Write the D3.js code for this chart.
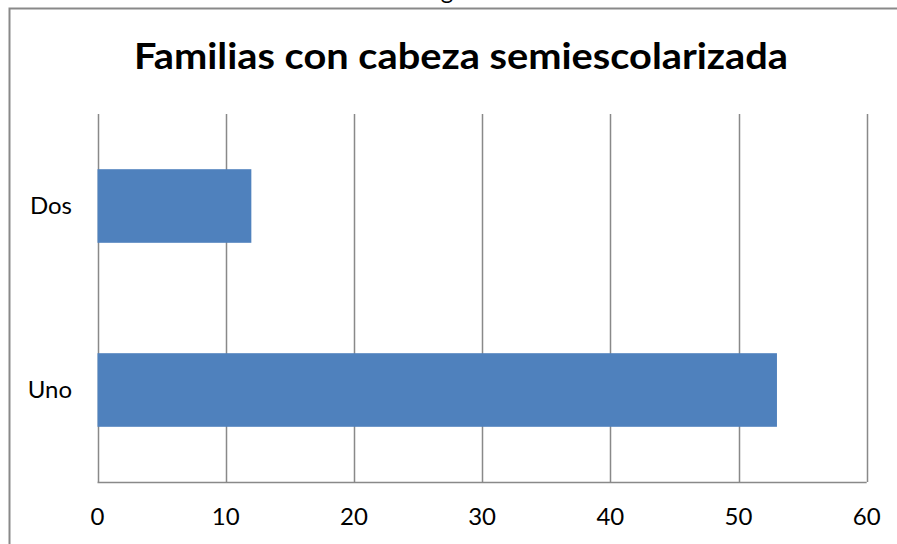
<!DOCTYPE html>
<html>
<head>
<meta charset="utf-8">
<script src="https://cdn.jsdelivr.net/npm/d3@7"></script>
<style>
  html, body { margin: 0; background: #fff; overflow: hidden; }
  svg { display: block; }
</style>
</head>
<body>
<script>
// chart data
const categories = ["Uno", "Dos"];
const values = [53, 12];
const xTicks = [0, 10, 20, 30, 40, 50, 60];
const title = "Familias con cabeza semiescolarizada";

let width = 897,
    height = 544;

let margin = { top: 114, bottom: 62, left: 97.5, right: 30 };

let svg = d3.select("body")
            .append("svg")
            .attr("width", width)
            .attr("height", height)
            .style("font-family", "Lato, Carlito, sans-serif");

// leftover text from the sheet above the chart, only its descender shows
svg.append("text")
   .attr("x", 447)
   .attr("y", -1)
   .attr("text-anchor", "middle")
   .style("font-size", "24px")
   .text("g");

// outer chart border: only top and left edges fall inside the page
svg.append("path")
   .attr("d", `M${width + 10},8.5 H9.5 V${height + 10}`)
   .attr("fill", "none")
   .attr("stroke", "#898989")
   .attr("stroke-width", 2);

let xScale = d3.scaleLinear()
               .domain([0, 60])
               .range([margin.left, 866.7]);

let yScale = d3.scaleBand()
               .domain(categories)
               .range([height - margin.bottom, margin.top])
               .paddingInner(0.6)
               .paddingOuter(0.3);

// vertical gridlines
svg.append("g")
   .selectAll("line")
   .data(xTicks)
   .enter()
   .append("line")
   .attr("x1", d => Math.round(xScale(d)) + 0.5)
   .attr("x2", d => Math.round(xScale(d)) + 0.5)
   .attr("y1", margin.top)
   .attr("y2", height - margin.bottom)
   .attr("stroke", "#898989")
   .attr("stroke-width", 1.5);

// bars
svg.selectAll(".bar")
   .data(categories)
   .enter()
   .append("rect")
   .attr("class", "bar")
   .attr("x", xScale(0))
   .attr("y", d => yScale(d))
   .attr("width", (d, i) => xScale(values[i]) - xScale(0))
   .attr("height", yScale.bandwidth())
   .attr("fill", "#4f81bd");

// bottom axis line
svg.append("line")
   .attr("x1", xScale(0))
   .attr("x2", xScale(60))
   .attr("y1", height - margin.bottom + 0.5)
   .attr("y2", height - margin.bottom + 0.5)
   .attr("stroke", "#898989")
   .attr("stroke-width", 1.5);

// x tick labels
svg.append("g")
   .selectAll("text")
   .data(xTicks)
   .enter()
   .append("text")
   .attr("x", d => xScale(d))
   .attr("y", 525)
   .attr("text-anchor", "middle")
   .style("font-size", "24px")
   .text(d => d);

// category labels
svg.append("g")
   .selectAll("text")
   .data(categories)
   .enter()
   .append("text")
   .attr("x", 72)
   .attr("y", d => yScale(d) + yScale.bandwidth() / 2 + 8)
   .attr("text-anchor", "end")
   .style("font-size", "24px")
   .text(d => d);

// title
svg.append("text")
   .attr("x", 461)
   .attr("y", 69)
   .attr("text-anchor", "middle")
   .attr("textLength", 654)
   .attr("lengthAdjust", "spacingAndGlyphs")
   .style("font-size", "37px")
   .style("font-weight", "bold")
   .text(title);
</script>
</body>
</html>
